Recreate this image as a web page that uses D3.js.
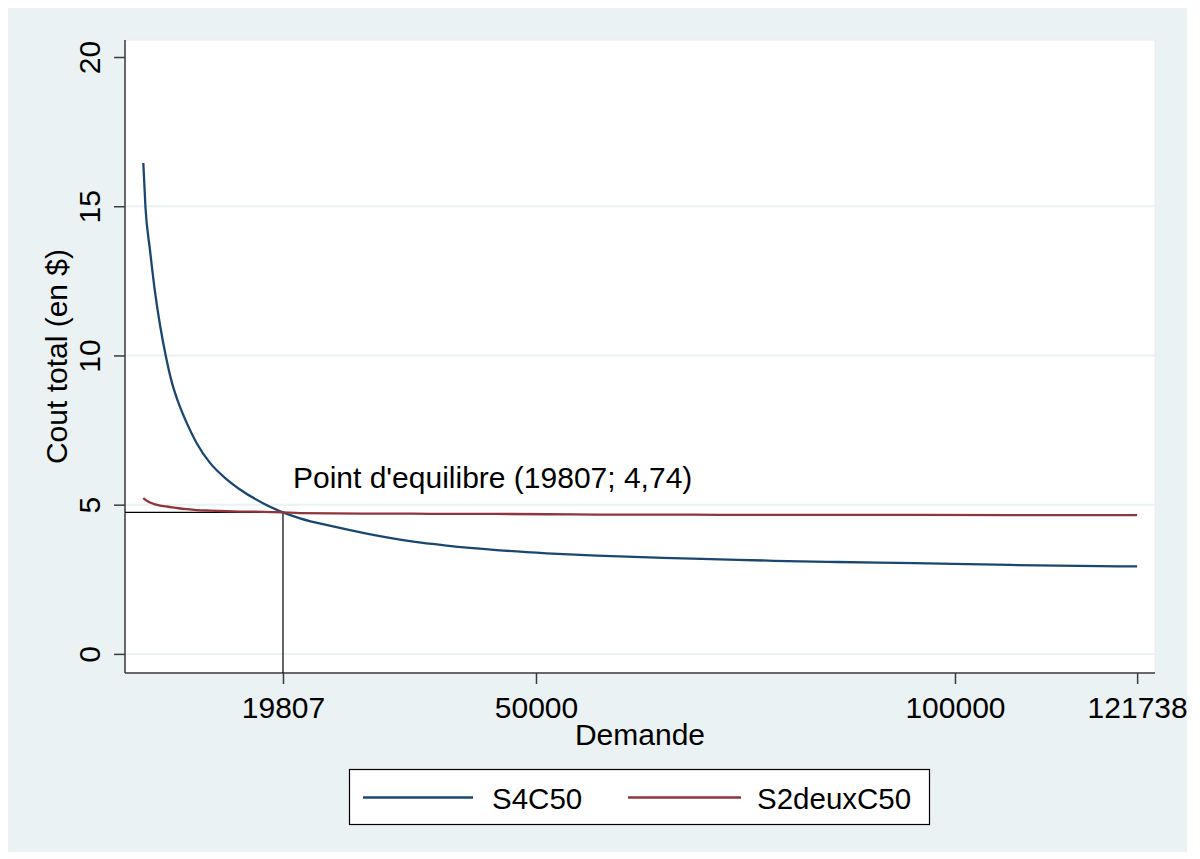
<!DOCTYPE html>
<html>
<head>
<meta charset="utf-8">
<script src="https://cdn.jsdelivr.net/npm/d3@7"></script>
<style>
  html, body { margin: 0; padding: 0; background: #ffffff; }
  svg { display: block; }
  text { font-family: "Liberation Sans", Arial, sans-serif; fill: #000; }
</style>
</head>
<body>
<svg id="chart" width="1200" height="859"></svg>
<script>
// Demand levels (x) and total cost of each scenario (y)
const demande = [3139, 3401, 3938, 4535, 5132, 5848, 6564, 7339, 8318, 9511, 11098,
  13091, 14678, 17423, 19807, 21838, 25776, 29798, 35359, 39345, 45312, 51279,
  57245, 65193, 71958, 78402, 85920, 95228, 106565, 117305, 121738];
const s4c50 = [16.45, 14.95, 13.53, 12.13, 11.02, 9.95, 9.08, 8.41, 7.74, 7.06, 6.40,
  5.85, 5.51, 5.05, 4.74, 4.54, 4.27, 4.03, 3.76, 3.63, 3.48, 3.37,
  3.29, 3.22, 3.17, 3.12, 3.08, 3.04, 2.98, 2.94, 2.93];
const s2deuxC50 = [5.22, 5.16, 5.07, 5.01, 4.97, 4.94, 4.91, 4.88, 4.85, 4.82, 4.80,
  4.78, 4.77, 4.76, 4.74, 4.72, 4.71, 4.70, 4.70, 4.69, 4.69, 4.68,
  4.67, 4.67, 4.66, 4.66, 4.66, 4.66, 4.65, 4.65, 4.65];
const seriesNames = ["S4C50", "S2deuxC50"];
const seriesColors = ["#1a476f", "#90353b"];
const yTicks = [0, 5, 10, 15, 20];
const yGrid = [0, 5, 10, 15];
const xTicks = [19807, 50000, 100000, 121738];
const equilibreX = 19807;
const equilibreY = 4.74;
const equilibreLabel = "Point d'equilibre (19807; 4,74)";

const svg = d3.select("#chart");
const plot = { left: 125, right: 1155, top: 40, bottom: 673 };

const x = d3.scaleLinear().domain([955, 123870]).range([plot.left, plot.right]);
const y = d3.scaleLinear().domain([-0.64, 20.57]).range([plot.bottom, plot.top]);

// graph region background
svg.append("rect").attr("x", 8).attr("y", 8).attr("width", 1179).attr("height", 844)
  .attr("fill", "#eaf2f3");

// plot region
svg.append("rect").attr("x", plot.left).attr("y", plot.top)
  .attr("width", plot.right - plot.left).attr("height", plot.bottom - plot.top)
  .attr("fill", "#ffffff").attr("stroke", "#e6eef0").attr("stroke-width", 1);

// horizontal gridlines
svg.append("g").selectAll("line").data(yGrid).join("line")
  .attr("x1", plot.left).attr("x2", plot.right)
  .attr("y1", d => y(d)).attr("y2", d => y(d))
  .attr("stroke", "#eaf2f3").attr("stroke-width", 2);

// y axis
const yAxis = svg.append("g").attr("transform", `translate(${plot.left},0)`)
  .call(d3.axisLeft(y).tickValues(yTicks).tickSize(11).tickPadding(14).tickFormat(d3.format("d")));
yAxis.select(".domain").attr("d", `M0,${plot.top}V${plot.bottom}`)
  .attr("stroke", "#3a3a3a").attr("stroke-width", 1.5);
yAxis.selectAll(".tick line").attr("stroke", "#3a3a3a").attr("stroke-width", 1.5);
yAxis.selectAll(".tick text")
  .attr("font-size", 30).attr("fill", "#000")
  .attr("text-anchor", "middle")
  .attr("x", null).attr("dy", null)
  .attr("transform", "translate(-25,0) rotate(-90)")
  .attr("y", 0).attr("dy", "0");

// x axis
const xAxis = svg.append("g").attr("transform", `translate(0,${plot.bottom})`)
  .call(d3.axisBottom(x).tickValues(xTicks).tickSize(11).tickPadding(13).tickFormat(d3.format("d")));
xAxis.select(".domain").attr("d", `M${plot.left},0H${plot.right}`)
  .attr("stroke", "#3a3a3a").attr("stroke-width", 1.5);
xAxis.selectAll(".tick line").attr("stroke", "#3a3a3a").attr("stroke-width", 1.5);
xAxis.selectAll(".tick text").attr("font-size", 30).attr("fill", "#000");

// equilibrium guides
svg.append("line")
  .attr("x1", plot.left).attr("x2", x(equilibreX))
  .attr("y1", y(equilibreY)).attr("y2", y(equilibreY))
  .attr("stroke", "#000").attr("stroke-width", 1.2);
svg.append("line")
  .attr("x1", x(equilibreX)).attr("x2", x(equilibreX))
  .attr("y1", y(equilibreY)).attr("y2", plot.bottom)
  .attr("stroke", "#000").attr("stroke-width", 1.2);

// series lines
const line = d3.line().x((d, i) => x(demande[i])).y(d => y(d)).curve(d3.curveMonotoneX);
[s4c50, s2deuxC50].forEach((vals, k) => {
  svg.append("path").datum(vals)
    .attr("d", line)
    .attr("fill", "none")
    .attr("stroke", seriesColors[k])
    .attr("stroke-width", 2.3)
    .attr("stroke-linejoin", "round");
});

// equilibrium label
svg.append("text")
  .attr("x", x(equilibreX) + 10).attr("y", y(equilibreY) - 24)
  .attr("font-size", 30)
  .text(equilibreLabel);

// axis titles
svg.append("text")
  .attr("transform", `translate(67,${(plot.top + plot.bottom) / 2}) rotate(-90)`)
  .attr("text-anchor", "middle").attr("font-size", 30)
  .text("Cout total (en $)");
svg.append("text")
  .attr("x", (plot.left + plot.right) / 2).attr("y", 745)
  .attr("text-anchor", "middle").attr("font-size", 30)
  .text("Demande");

// legend
const legend = svg.append("g");
legend.append("rect").attr("x", 349.5).attr("y", 769.5).attr("width", 580).attr("height", 55)
  .attr("fill", "#ffffff").attr("stroke", "#000").attr("stroke-width", 1.2);
const legendItems = [
  { x1: 363, x2: 473, tx: 492 },
  { x1: 628, x2: 741, tx: 757 }
];
legendItems.forEach((it, k) => {
  legend.append("line").attr("x1", it.x1).attr("x2", it.x2)
    .attr("y1", 797.5).attr("y2", 797.5)
    .attr("stroke", seriesColors[k]).attr("stroke-width", 2.5);
  legend.append("text").attr("x", it.tx).attr("y", 809)
    .attr("font-size", 29.5).text(seriesNames[k]);
});
</script>
</body>
</html>
